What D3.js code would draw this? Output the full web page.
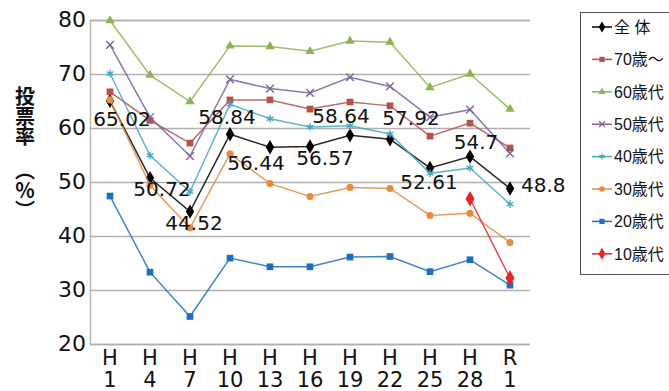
<!DOCTYPE html>
<html>
<head>
<meta charset="utf-8">
<script src="https://cdn.jsdelivr.net/npm/d3@7"></script>
<style>
  html, body { margin: 0; padding: 0; background: #fff; }
  svg { display: block; }
</style>
</head>
<body>
<div id="chart"></div>
<script>
// 選挙年
const years = ["H1", "H4", "H7", "H10", "H13", "H16", "H19", "H22", "H25", "H28", "R1"];

// 年代別投票率（％）
const total = [65.02, 50.72, 44.52, 58.84, 56.44, 56.57, 58.64, 57.92, 52.61, 54.7, 48.8];
const age70 = [66.7, 61.4, 57.2, 65.2, 65.2, 63.5, 64.8, 64.1, 58.5, 60.9, 56.3];
const age60 = [79.9, 69.8, 64.9, 75.2, 75.1, 74.2, 76.1, 75.9, 67.5, 70.0, 63.5];
const age50 = [75.4, 62.0, 54.8, 69.0, 67.3, 66.5, 69.4, 67.7, 62.0, 63.4, 55.3];
const age40 = [70.1, 54.9, 48.2, 64.4, 61.7, 60.2, 60.4, 58.9, 51.6, 52.6, 45.9];
const age30 = [65.2, 49.4, 41.5, 55.2, 49.7, 47.3, 49.0, 48.8, 43.8, 44.2, 38.8];
const age20 = [47.4, 33.3, 25.1, 35.9, 34.3, 34.3, 36.1, 36.2, 33.4, 35.6, 30.9];
const age10 = [null, null, null, null, null, null, null, null, null, 46.9, 32.2];

const yTicks = [20, 30, 40, 50, 60, 70, 80];

// 全体のラベル位置（点からのずれ）
const labelOffsets = [[12, 25], [12, 18], [4, 18], [-3, -10], [-14, 23], [15, 18], [-9, -12], [21, -14], [-1, 21], [6, -8], [11, 4]];

const series = [
    { name: "全 体", values: total, color: "#000000", marker: d3.symbolDiamond, size: 60 },
    { name: "70歳～", values: age70, color: "#b5504b", marker: d3.symbolSquare, size: 45 },
    { name: "60歳代", values: age60, color: "#8fb254", marker: d3.symbolTriangle, size: 38 },
    { name: "50歳代", values: age50, color: "#7d62a0", marker: d3.symbolX, size: 40, stroke: true },
    { name: "40歳代", values: age40, color: "#45a7c2", marker: d3.symbolAsterisk, size: 40, stroke: true },
    { name: "30歳代", values: age30, color: "#e58c3f", marker: d3.symbolCircle, size: 40 },
    { name: "20歳代", values: age20, color: "#1e6fc1", marker: d3.symbolSquare, size: 45 },
    { name: "10歳代", values: age10, color: "#e8242a", marker: d3.symbolDiamond, size: 70 }
];

const width = 669;
const height = 391;
const numFont = "'DejaVu Sans', sans-serif";
const jpFont = "'Noto Sans CJK JP', sans-serif";

const svg = d3.select("#chart").append("svg")
    .attr("width", width)
    .attr("height", height);

const x = d3.scalePoint()
    .domain(years)
    .range([90, 530])
    .padding(0.5);

const y = d3.scaleLinear()
    .domain([20, 80])
    .range([344, 20]);

// 目盛線と縦軸
const yAxis = svg.append("g")
    .attr("transform", "translate(90,0)")
    .call(d3.axisLeft(y).tickValues(yTicks).tickSize(-440).tickPadding(4));
yAxis.select(".domain").attr("stroke", "#b8b8b8").attr("stroke-width", 1.5);
yAxis.selectAll(".tick line").attr("stroke", "#b0b0b0").attr("stroke-width", 1.5);
yAxis.selectAll(".tick text")
    .attr("font-family", numFont)
    .attr("font-size", 22)
    .attr("fill", "#111")
    .attr("dy", "0.28em");

// 横軸ラベル（2行）
const xLabels = svg.append("g");
years.forEach(yr => {
    const t = xLabels.append("text")
        .attr("x", x(yr))
        .attr("text-anchor", "middle")
        .attr("font-family", numFont)
        .attr("font-size", 21)
        .attr("fill", "#111");
    t.append("tspan").attr("x", x(yr)).attr("y", 365).text(yr.slice(0, 1));
    t.append("tspan").attr("x", x(yr)).attr("y", 387).text(yr.slice(1));
});

// 縦軸タイトル
const yTitle = svg.append("g")
    .attr("font-family", jpFont)
    .attr("font-weight", "bold")
    .attr("font-size", 20)
    .attr("fill", "#111")
    .style("writing-mode", "vertical-rl");
yTitle.append("text").attr("x", 25).attr("y", 86).text("投票率");
yTitle.append("text").attr("x", 25).attr("y", 160).text("（％）");

// 折れ線
const line = d3.line()
    .defined(d => d != null)
    .x((d, i) => x(years[i]))
    .y(d => y(d));

series.forEach(s => {
    const g = svg.append("g");
    g.append("path")
        .datum(s.values)
        .attr("fill", "none")
        .attr("stroke", s.color)
        .attr("stroke-opacity", 0.85)
        .attr("stroke-width", 1.5)
        .attr("d", line);

    const pts = s.values.map((v, i) => ({ v: v, yr: years[i] })).filter(p => p.v != null);
    g.selectAll("path.mk")
        .data(pts)
        .enter().append("path")
        .attr("class", "mk")
        .attr("transform", p => `translate(${x(p.yr)},${y(p.v)})`)
        .attr("d", d3.symbol().type(s.marker).size(s.size))
        .attr("fill", s.stroke ? "none" : s.color)
        .attr("stroke", s.stroke ? s.color : "none")
        .attr("stroke-width", 1.4);
});

// 全体の値ラベル
svg.append("g").selectAll("text")
    .data(total)
    .enter().append("text")
    .attr("x", (d, i) => x(years[i]) + labelOffsets[i][0])
    .attr("y", (d, i) => y(d) + labelOffsets[i][1])
    .attr("text-anchor", (d, i) => i === total.length - 1 ? "start" : "middle")
    .attr("font-family", numFont)
    .attr("font-size", 20)
    .attr("fill", "#111")
    .text(d => d);

// 凡例
const legend = svg.append("g");
legend.append("rect")
    .attr("x", 580.5)
    .attr("y", 12.5)
    .attr("width", 110)
    .attr("height", 262)
    .attr("fill", "#fff")
    .attr("stroke", "#555")
    .attr("stroke-width", 1);

series.forEach((s, i) => {
    const ly = 27 + i * 32.4;
    legend.append("line")
        .attr("x1", 592).attr("x2", 612)
        .attr("y1", ly).attr("y2", ly)
        .attr("stroke", s.color)
        .attr("stroke-width", 1.5);
    legend.append("path")
        .attr("transform", `translate(602,${ly})`)
        .attr("d", d3.symbol().type(s.marker).size(s.size * 0.6))
        .attr("fill", s.stroke ? "none" : s.color)
        .attr("stroke", s.stroke ? s.color : "none")
        .attr("stroke-width", 1.2);
    legend.append("text")
        .attr("x", 614)
        .attr("y", ly)
        .attr("dy", "0.36em")
        .attr("font-family", "'Liberation Sans', 'Noto Sans CJK JP', sans-serif")
        .attr("font-size", 16)
        .attr("fill", "#111")
        .text(s.name);
});
</script>
</body>
</html>
